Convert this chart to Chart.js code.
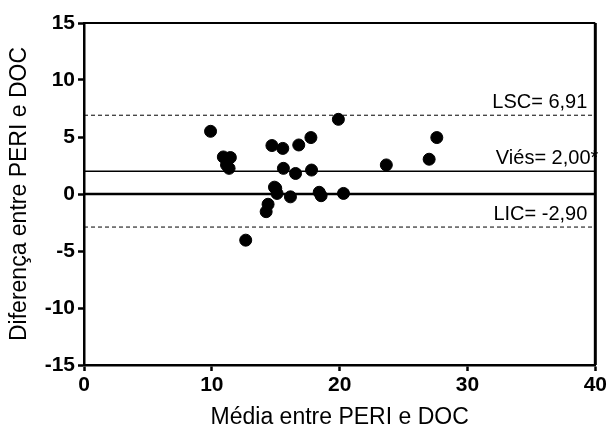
<!DOCTYPE html>
<html>
<head>
<meta charset="utf-8">
<script src="https://cdn.jsdelivr.net/npm/chart.js@4.4.1/dist/chart.umd.min.js"></script>
<style>
  html, body { margin: 0; padding: 0; background: #fff; }
  #wrap { width: 609px; height: 435px; }
</style>
</head>
<body>
<div id="wrap"><canvas id="chart" width="609" height="435"></canvas></div>
<script>
/************/
/*** DATA ***/
/************/

// Média entre PERI e DOC (x) e diferença (y):
const mediaValues = [9.9, 10.9, 11.45, 11.15, 11.35, 14.7, 15.0, 14.4, 14.25, 12.65,
    19.9, 15.55, 16.8, 17.75, 15.6, 16.55, 17.8, 23.65, 27.0, 27.6,
    14.9, 15.1, 16.15, 18.4, 18.55, 20.3];
const difValues = [5.5, 3.25, 3.2, 2.55, 2.25, 4.25, 0.5, -0.9, -1.55, -4.05,
    6.55, 4.0, 4.3, 4.95, 2.25, 1.8, 2.1, 2.55, 3.05, 4.95,
    0.6, 0.05, -0.25, 0.15, -0.15, 0.05];

// Linhas de referência (Bland-Altman):
const refNames = ['LSC', 'Viés', 'LIC'];
const refValues = [6.91, 2.00, -2.90];
const refLabels = ['LSC= 6,91', 'Viés= 2,00*', 'LIC= -2,90'];

// Eixos:
const xRange = [0, 40];
const yRange = [-15, 15];
const xStep = 10;
const yStep = 5;

/*****************/
/*** FUNCTIONS ***/
/*****************/

const FONT = "Arial, 'Liberation Sans', sans-serif";

function refDataset(value, name) {
    const dashed = name !== 'Viés';
    return {
        type: 'line', label: name,
        data: [{x: xRange[0], y: value}, {x: xRange[1], y: value}],
        borderColor: '#000', borderWidth: dashed ? 1 : 1.5,
        borderDash: dashed ? [4, 3] : [],
        pointRadius: 0, order: 2
    };
}

// Draws zero line, labels of the ref lines and the box frame:
const framePlugin = {
    id: 'frame',
    afterDatasetsDraw(chart) {
        const {ctx, chartArea: a, scales: {x, y}} = chart;
        ctx.save();
        // zero line
        ctx.strokeStyle = '#000';
        ctx.lineWidth = 2.5;
        ctx.beginPath();
        ctx.moveTo(a.left, y.getPixelForValue(0));
        ctx.lineTo(a.right, y.getPixelForValue(0));
        ctx.stroke();
        // labels
        ctx.fillStyle = '#000';
        ctx.font = '20px ' + FONT;
        ctx.textAlign = 'right';
        ctx.textBaseline = 'alphabetic';
        refValues.forEach((v, i) => {
            const xr = i === 1 ? a.right + 3 : a.right - 8;
            ctx.fillText(refLabels[i], xr, y.getPixelForValue(v) - 7);
        });
        // top + right frame
        ctx.lineWidth = 2;
        ctx.beginPath();
        ctx.moveTo(a.left, a.top);
        ctx.lineTo(a.right, a.top);
        ctx.stroke();
        ctx.lineWidth = 3;
        ctx.beginPath();
        ctx.moveTo(a.right, a.top);
        ctx.lineTo(a.right, a.bottom);
        ctx.stroke();
        ctx.restore();
    }
};

/************/
/*** INIT ***/
/************/

const points = mediaValues.map((m, i) => ({x: m, y: difValues[i]}));

const chart = new Chart(document.getElementById('chart'), {
    type: 'scatter',
    data: {
        datasets: [
            {label: 'Diferença', data: points, backgroundColor: '#000', borderColor: '#000',
             pointRadius: 6, pointHoverRadius: 6, order: 1},
            ...refValues.map((v, i) => refDataset(v, refNames[i]))
        ]
    },
    options: {
        responsive: false,
        animation: false,
        layout: {padding: {top: 23, right: 13, left: 2, bottom: 0}},
        plugins: {legend: {display: false}, tooltip: {enabled: false}},
        scales: {
            x: {
                type: 'linear', min: xRange[0], max: xRange[1],
                ticks: {stepSize: xStep, color: '#000', font: {family: FONT, size: 21, weight: 'bold'}, padding: 2},
                grid: {drawOnChartArea: false, drawTicks: true, tickLength: 6, tickWidth: 2.5, tickColor: '#000'},
                border: {display: true, color: '#000', width: 2.5},
                title: {display: true, text: 'Média entre PERI e DOC', color: '#000',
                        font: {family: FONT, size: 23}, padding: {top: 2}},
                afterFit(scale) { scale.height = 70; }
            },
            y: {
                type: 'linear', min: yRange[0], max: yRange[1],
                ticks: {stepSize: yStep, color: '#000', font: {family: FONT, size: 21, weight: 'bold'}, padding: 3},
                grid: {drawOnChartArea: false, drawTicks: true, tickLength: 6, tickWidth: 2.5, tickColor: '#000'},
                border: {display: true, color: '#000', width: 2.5},
                title: {display: true, text: 'Diferença entre PERI e DOC', color: '#000',
                        font: {family: FONT, size: 23}, padding: {top: 4, bottom: 4}},
                afterFit(scale) { scale.width = 82; }
            }
        }
    },
    plugins: [framePlugin]
});
</script>
</body>
</html>
